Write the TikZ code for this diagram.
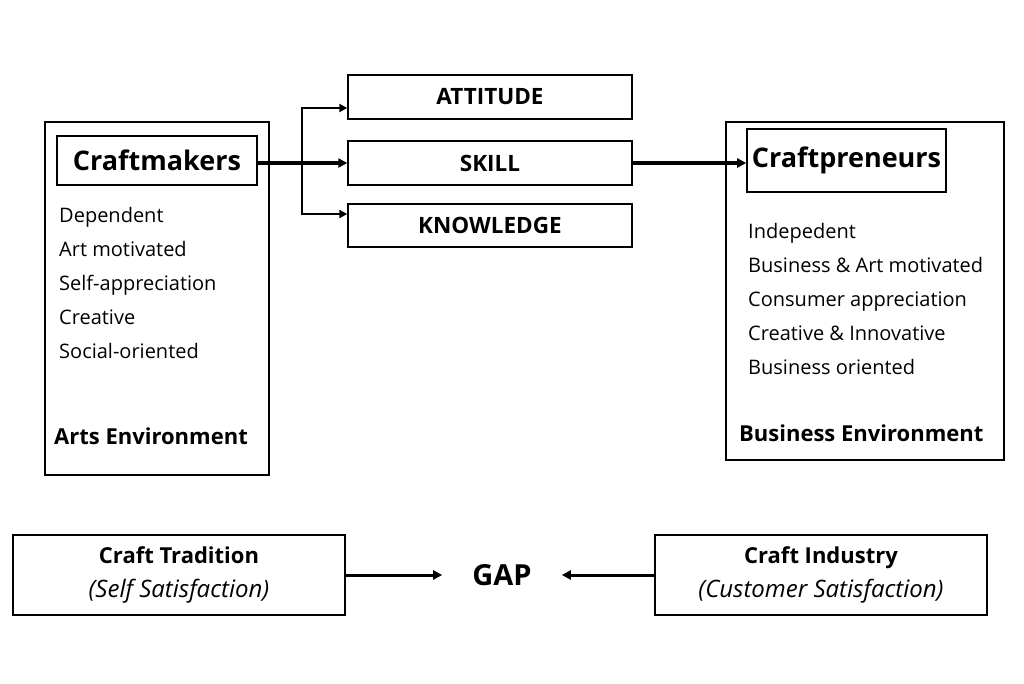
\documentclass[tikz,border=0pt]{standalone}
\usepackage{fontspec}
\setmainfont{Open Sans}
\usetikzlibrary{arrows.meta,positioning}

\begin{document}
\begin{tikzpicture}[
        x=1pt, y=-1pt,
        >={Triangle[length=9pt,width=9pt]},
        frame/.style={draw, line width=1.4pt, inner sep=0pt},
        box/.style={draw, line width=1.4pt, inner sep=0pt, font=\fontsize{22.5}{26}\selectfont\bfseries},
        headbox/.style={draw, line width=1.6pt, inner sep=0pt, font=\fontsize{27}{32}\selectfont\bfseries},
        item/.style={anchor=base west, inner sep=0pt, font=\fontsize{20}{24}\selectfont},
        envlab/.style={anchor=base west, inner sep=0pt, font=\fontsize{22}{26}\selectfont\bfseries},
        bottombox/.style={frame, minimum width=332pt, minimum height=80pt, align=center, font=\fontsize{22}{34}\selectfont},
        main/.style={->, line width=3.6pt},
        branch/.style={->, line width=2.8pt, >={Triangle[length=8pt,width=8pt]}}
    ]

    \useasboundingbox (0,0) rectangle (1024,683);

    % left side
    \node[frame, minimum width=224pt, minimum height=353pt] (artsframe) at (157,298.5) {};
    \node[headbox, minimum width=200pt, minimum height=49pt] (craftmakers) at (157,160.5) {Craftmakers};
    \foreach \txt [count=\i from 0] in {Dependent, Art motivated, Self-appreciation, Creative, Social-oriented}
        \node[item] (arts\i) at (59,222+34*\i) {\txt};
    \node[envlab] (artsenv) at (54,444) {Arts Environment};

    % middle boxes
    \node[box, minimum width=284pt, minimum height=44pt] (attitude) at (490,97) {ATTITUDE};
    \node[box, minimum width=284pt, minimum height=44pt] (skill) at (490,163) {SKILL};
    \node[box, minimum width=284pt, minimum height=43pt] (knowledge) at (490,225.5) {KNOWLEDGE};

    % right side
    \node[frame, minimum width=278pt, minimum height=338pt] (bizframe) at (865,291) {};
    \node[headbox, minimum width=199pt, minimum height=63pt] (craftpreneurs) at (846.5,160.5) {Craftpreneurs};
    \foreach \txt [count=\i from 0] in {Indepedent, Business \& Art motivated, Consumer appreciation, Creative \& Innovative, Business oriented}
        \node[item] (biz\i) at (748,238+34*\i) {\txt};
    \node[envlab] (bizenv) at (739,441) {Business Environment};

    % connectors
    \coordinate (fork) at (302,163);
    \draw[main] (craftmakers.east |- skill) -- (skill.west);
    \draw[branch] (fork) |- ([yshift=-11pt]attitude.west);
    \draw[branch] (fork) |- ([yshift=11.5pt]knowledge.west);
    \draw[main] (skill.east) -- (craftpreneurs.west |- skill);

    % bottom row
    \node[bottombox] (tradition) at (179,575)
        {\textbf{Craft Tradition}\\ {\fontsize{24}{34}\selectfont\itshape (Self Satisfaction)}};
    \node[bottombox] (industry) at (821,575)
        {\textbf{Craft Industry}\\ {\fontsize{24}{34}\selectfont\itshape (Customer Satisfaction)}};
    \node[inner xsep=30pt, font=\fontsize{29}{34}\selectfont\bfseries] (gap) at (502,575) {GAP};
    \draw[main, line width=3pt] (tradition.east |- gap) -- (gap.west);
    \draw[main, line width=3pt] (industry.west |- gap) -- (gap.east);

\end{tikzpicture}
\end{document}
